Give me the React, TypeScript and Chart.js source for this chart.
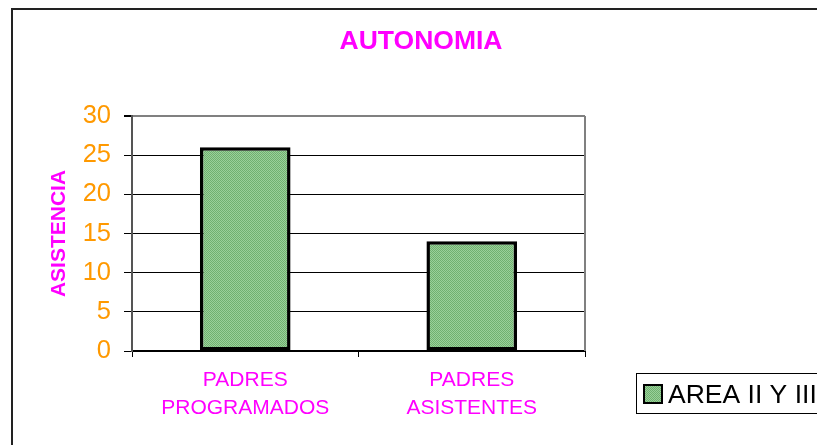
import React, { useEffect, useRef } from "react";
import { Chart, registerables } from "chart.js";

Chart.register(...registerables);

const categories: string[][] = [["PADRES", "PROGRAMADOS"], ["PADRES", "ASISTENTES"]];
const seriesLabel = "AREA II Y III";
const seriesValues: number[] = [26, 14];
const chartTitle = "AUTONOMIA";
const yAxisTitle = "ASISTENCIA";
const yMin = 0;
const yMax = 30;
const yStep = 5;

const FONT = "'Liberation Sans', Arial, sans-serif";
const MAGENTA = "#FF00FF";
const ORANGE = "#FF9900";

function makePattern(): CanvasPattern | string {
  const c = document.createElement("canvas");
  c.width = 2;
  c.height = 2;
  const g = c.getContext("2d");
  if (!g) return "#80C080";
  g.fillStyle = "#9AD09A";
  g.fillRect(0, 0, 2, 2);
  g.fillStyle = "#70B070";
  g.fillRect(0, 0, 1, 1);
  g.fillRect(1, 1, 1, 1);
  const p = g.createPattern(c, "repeat");
  return p || "#80C080";
}

export default function App() {
  const ref = useRef<HTMLCanvasElement | null>(null);

  useEffect(() => {
    if (!ref.current) return;
    const pattern = makePattern();

    const decor = {
      id: "decor",
      afterDraw(chart: any) {
        const ctx = chart.ctx as CanvasRenderingContext2D;
        const ca = chart.chartArea;
        ctx.save();
        // outer frame
        ctx.strokeStyle = "#222";
        ctx.lineWidth = 2;
        ctx.beginPath();
        ctx.moveTo(12, 445);
        ctx.lineTo(12, 9);
        ctx.lineTo(817, 9);
        ctx.stroke();
        // right plot border
        ctx.strokeStyle = "#808080";
        ctx.lineWidth = 2;
        ctx.beginPath();
        ctx.moveTo(ca.right, ca.top);
        ctx.lineTo(ca.right, ca.bottom);
        ctx.stroke();
        // title
        ctx.fillStyle = MAGENTA;
        ctx.font = `bold 26.5px ${FONT}`;
        ctx.textAlign = "center";
        ctx.textBaseline = "alphabetic";
        ctx.fillText(chartTitle, 421, 49);
        // y title
        ctx.save();
        ctx.translate(59, (ca.top + ca.bottom) / 2);
        ctx.rotate(-Math.PI / 2);
        ctx.font = `bold 21px ${FONT}`;
        ctx.textBaseline = "middle";
        ctx.textAlign = "center";
        ctx.fillText(yAxisTitle, 0, 0);
        ctx.restore();
        // legend
        ctx.strokeStyle = "#000";
        ctx.lineWidth = 1;
        ctx.strokeRect(636.5, 373.5, 300, 40);
        ctx.fillStyle = pattern as any;
        ctx.fillRect(644, 385, 18, 18);
        ctx.lineWidth = 2;
        ctx.strokeRect(644, 385, 18, 18);
        ctx.fillStyle = "#000";
        ctx.font = `26.5px ${FONT}`;
        ctx.textAlign = "left";
        ctx.textBaseline = "alphabetic";
        ctx.fillText(seriesLabel, 668, 403);
        ctx.restore();
      },
    };

    const chart = new Chart(ref.current, {
      type: "bar",
      data: {
        labels: categories,
        datasets: [
          {
            label: seriesLabel,
            data: seriesValues,
            backgroundColor: pattern as any,
            borderColor: "#000",
            borderWidth: 3.5,
            borderSkipped: false,
            barPercentage: 0.4,
            categoryPercentage: 1,
          },
        ],
      },
      options: {
        animation: false,
        responsive: false,
        events: [],
        layout: { padding: { left: 0, top: 116, right: 232, bottom: 0 } },
        plugins: {
          legend: { display: false },
          title: { display: false },
          tooltip: { enabled: false },
        },
        scales: {
          x: {
            afterFit(scale: any) {
              scale.height = 94;
            },
            grid: {
              offset: true,
              drawOnChartArea: false,
              color: "#000",
              tickLength: 6,
              lineWidth: 1,
            },
            border: { color: "#000", width: 2 },
            ticks: {
              color: MAGENTA,
              font: { family: FONT, size: 21, lineHeight: 1.333 },
              padding: 9,
              maxRotation: 0,
              autoSkip: false,
            },
          },
          y: {
            min: yMin,
            max: yMax,
            afterFit(scale: any) {
              scale.width = 132;
            },
            grid: {
              color: (c: any) => (c.tick && c.tick.value === yMax ? "#808080" : "#000"),
              lineWidth: (c: any) => (c.tick && c.tick.value === yMax ? 2 : 1),
              tickColor: "#000",
              tickLength: 8,
            },
            border: { color: "#555", width: 2 },
            ticks: {
              stepSize: yStep,
              color: ORANGE,
              font: { family: FONT, size: 25.5 },
              padding: 13,
            },
          },
        },
      },
      plugins: [decor],
    });
    return () => chart.destroy();
  }, []);

  return (
    <div style={{ position: "absolute", left: 0, top: 0, width: 817, height: 445, background: "#fff" }}>
      <canvas ref={ref} width={817} height={445} />
    </div>
  );
}
